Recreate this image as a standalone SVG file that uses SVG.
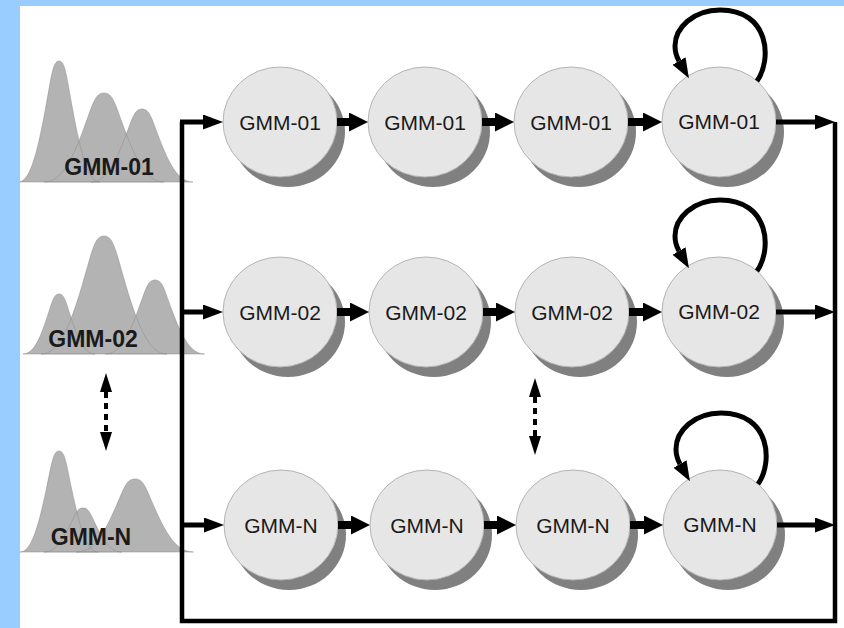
<svg xmlns="http://www.w3.org/2000/svg" xmlns:xlink="http://www.w3.org/1999/xlink" width="844" height="628" viewBox="0 0 844 628">
  <style>
    .bell { fill: #b3b3b3; stroke: none; }
    .bell-edge { fill: none; stroke: #8a8a8a; stroke-width: 0.7; stroke-opacity: 0.7; }
    .dist-label { font-family: "Liberation Sans", Arial, sans-serif; font-weight: bold; font-size: 23px; fill: #1a1a1a; text-anchor: middle; }
    .shadow { fill: #808080; }
    .state { fill: #e6e6e6; stroke: #b4b4b4; stroke-width: 1; }
    .state-label { font-family: "Liberation Sans", Arial, sans-serif; font-size: 21px; fill: #1a1a1a; text-anchor: middle; }
    .link { fill: none; stroke: #000; stroke-width: 8; marker-end: url(#head); }
    .io { fill: none; stroke: #000; stroke-width: 5; marker-end: url(#headS); }
    .frame { fill: none; stroke: #000; stroke-width: 4.5; stroke-linejoin: miter; }
    .loop { fill: none; stroke: #000; stroke-width: 5; marker-end: url(#headS); }
    .dashed { fill: none; stroke: #000; stroke-width: 4; stroke-dasharray: 6 5; marker-start: url(#headD); marker-end: url(#headD); }
  </style>
  <defs>
    <marker id="head" markerUnits="userSpaceOnUse" markerWidth="20" markerHeight="20" refX="0" refY="9.5" orient="auto">
      <path d="M0,0 L19,9.5 L0,19 Z" fill="#000"/>
    </marker>
    <marker id="headS" markerUnits="userSpaceOnUse" markerWidth="21" markerHeight="16" refX="0" refY="7.5" orient="auto">
      <path d="M0,0 L20,7.5 L0,15 Z" fill="#000"/>
    </marker>
    <marker id="headD" markerUnits="userSpaceOnUse" markerWidth="20" markerHeight="13" refX="0" refY="6" orient="auto-start-reverse">
      <path d="M0,0 L19,6 L0,12 Z" fill="#000"/>
    </marker>
    <path id="selfloop" d="M757 81 C772 60, 770 10, 720 10 C693 10, 675 28, 675 46 Q675 54, 679 61"/>
    <!-- gaussian-like components, each built from four cubic pieces -->
    <path id="g01a" d="M18.5 182 C29.3 182, 36.5 157.6, 45.5 108.6 C51.6 75.5, 52.9 61, 59 61 C65.1 61, 66.4 75.5, 72.5 108.6 C81.5 157.6, 88.7 182, 99.5 182 Z"/>
    <path id="g01b" d="M44 182 C60 182, 70.7 164, 84 128 C93 103.7, 95 93, 104 93 C113 93, 115 103.7, 124 128 C137.3 164, 148 182, 164 182 Z"/>
    <path id="g01c" d="M91 182 C104.6 182, 113.7 167.3, 125 137.7 C132.65 117.8, 134.35 109, 142 109 C149.65 109, 151.35 117.8, 159 137.7 C170.3 167.3, 179.4 182, 193 182 Z"/>
    <path id="g02a" d="M23 354 C32.6 354, 39 341.9, 47 317.6 C52.4 301.2, 53.6 294, 59 294 C64.4 294, 65.6 301.2, 71 317.6 C79 341.9, 85.4 354, 95 354 Z"/>
    <path id="g02b" d="M41 354 C57.8 354, 69 330.2, 83 282.4 C92.45 250.2, 94.55 236, 104 236 C113.45 236, 115.55 250.2, 125 282.4 C139 330.2, 150.2 354, 167 354 Z"/>
    <path id="g02c" d="M105.5 354 C118.7 354, 127.5 339.1, 138.5 309.1 C145.9 288.9, 147.6 280, 155 280 C162.4 280, 164.1 288.9, 171.5 309.1 C182.5 339.1, 191.3 354, 204.5 354 Z"/>
    <path id="gNa" d="M20 552 C30.4 552, 37.3 531.6, 46 490.7 C51.85 463.1, 53.15 451, 59 451 C64.85 451, 66.15 463.1, 72 490.7 C80.7 531.6, 87.6 552, 98 552 Z"/>
    <path id="gNb" d="M44 552 C54.4 552, 61.3 543.1, 70 525.3 C75.85 513.3, 77.15 508, 83 508 C88.85 508, 90.15 513.3, 96 525.3 C104.7 543.1, 111.6 552, 122 552 Z"/>
    <path id="gNc" d="M76.5 552 C92.1 552, 102.5 537.3, 115.5 507.7 C124.3 487.8, 126.2 479, 135 479 C143.8 479, 145.7 487.8, 154.5 507.7 C167.5 537.3, 177.9 552, 193.5 552 Z"/>
  </defs>

  <!-- page background -->
  <rect x="0" y="0" width="844" height="628" fill="#ffffff"/>

  <!-- mixture densities -->
  <g id="dist-gmm-01">
    <use xlink:href="#g01a" class="bell"/>
    <use xlink:href="#g01b" class="bell"/>
    <use xlink:href="#g01c" class="bell"/>
    <use xlink:href="#g01a" class="bell-edge"/>
    <use xlink:href="#g01b" class="bell-edge"/>
    <use xlink:href="#g01c" class="bell-edge"/>
    <text class="dist-label" x="109" y="175">GMM-01</text>
  </g>
  <g id="dist-gmm-02">
    <use xlink:href="#g02a" class="bell"/>
    <use xlink:href="#g02b" class="bell"/>
    <use xlink:href="#g02c" class="bell"/>
    <use xlink:href="#g02a" class="bell-edge"/>
    <use xlink:href="#g02b" class="bell-edge"/>
    <use xlink:href="#g02c" class="bell-edge"/>
    <text class="dist-label" x="93" y="347">GMM-02</text>
  </g>
  <g id="dist-gmm-n">
    <use xlink:href="#gNa" class="bell"/>
    <use xlink:href="#gNb" class="bell"/>
    <use xlink:href="#gNc" class="bell"/>
    <use xlink:href="#gNa" class="bell-edge"/>
    <use xlink:href="#gNb" class="bell-edge"/>
    <use xlink:href="#gNc" class="bell-edge"/>
    <text class="dist-label" x="91" y="545">GMM-N</text>
  </g>

  <!-- blue margins -->
  <rect x="0" y="0" width="844" height="6" fill="#99ccff"/>
  <rect x="0" y="0" width="20" height="628" fill="#99ccff"/>

  <!-- states, row 1 -->
  <g id="s1-1"><ellipse class="shadow" cx="288" cy="132" rx="57" ry="55"/><ellipse class="state" cx="280" cy="122" rx="57" ry="55"/><text class="state-label" x="280" y="130">GMM-01</text></g>
  <g id="s1-2"><ellipse class="shadow" cx="433" cy="132" rx="57" ry="55"/><ellipse class="state" cx="425" cy="122" rx="57" ry="55"/><text class="state-label" x="425" y="130">GMM-01</text></g>
  <g id="s1-3"><ellipse class="shadow" cx="579" cy="132" rx="57" ry="55"/><ellipse class="state" cx="571" cy="122" rx="57" ry="55"/><text class="state-label" x="571" y="130">GMM-01</text></g>
  <g id="s1-4"><ellipse class="shadow" cx="727" cy="132" rx="57" ry="55"/><ellipse class="state" cx="719" cy="122" rx="57" ry="55"/><text class="state-label" x="719" y="129">GMM-01</text></g>

  <!-- states, row 2 -->
  <g id="s2-1"><ellipse class="shadow" cx="288" cy="322" rx="57" ry="55"/><ellipse class="state" cx="280" cy="312" rx="57" ry="55"/><text class="state-label" x="280" y="320">GMM-02</text></g>
  <g id="s2-2"><ellipse class="shadow" cx="434" cy="322" rx="57" ry="55"/><ellipse class="state" cx="426" cy="312" rx="57" ry="55"/><text class="state-label" x="426" y="320">GMM-02</text></g>
  <g id="s2-3"><ellipse class="shadow" cx="580" cy="322" rx="57" ry="55"/><ellipse class="state" cx="572" cy="312" rx="57" ry="55"/><text class="state-label" x="572" y="320">GMM-02</text></g>
  <g id="s2-4"><ellipse class="shadow" cx="727" cy="322" rx="57" ry="55"/><ellipse class="state" cx="719" cy="312" rx="57" ry="55"/><text class="state-label" x="719" y="319">GMM-02</text></g>

  <!-- states, row N -->
  <g id="s3-1"><ellipse class="shadow" cx="289" cy="535" rx="57" ry="55"/><ellipse class="state" cx="281" cy="525" rx="57" ry="55"/><text class="state-label" x="281" y="533">GMM-N</text></g>
  <g id="s3-2"><ellipse class="shadow" cx="435" cy="535" rx="57" ry="55"/><ellipse class="state" cx="427" cy="525" rx="57" ry="55"/><text class="state-label" x="427" y="533">GMM-N</text></g>
  <g id="s3-3"><ellipse class="shadow" cx="581" cy="535" rx="57" ry="55"/><ellipse class="state" cx="573" cy="525" rx="57" ry="55"/><text class="state-label" x="573" y="533">GMM-N</text></g>
  <g id="s3-4"><ellipse class="shadow" cx="728" cy="535" rx="57" ry="55"/><ellipse class="state" cx="720" cy="525" rx="57" ry="55"/><text class="state-label" x="720" y="532">GMM-N</text></g>

  <!-- connectors -->
  <g id="connectors">
    <!-- feedback frame -->
    <path class="frame" d="M182 122 V621 H835 V122"/>
    <!-- entries -->
    <line class="io" x1="180" y1="122" x2="203" y2="122"/>
    <line class="io" x1="182" y1="312" x2="203" y2="312"/>
    <line class="io" x1="182" y1="525" x2="204" y2="525"/>
    <!-- exits -->
    <line class="io" x1="776" y1="122" x2="815" y2="122"/>
    <line class="io" x1="776" y1="312" x2="815" y2="312"/>
    <line class="io" x1="777" y1="525" x2="815" y2="525"/>
    <!-- transitions row 1 -->
    <line class="link" x1="337" y1="122" x2="349" y2="122"/>
    <line class="link" x1="482" y1="122" x2="495" y2="122"/>
    <line class="link" x1="628" y1="122" x2="643" y2="122"/>
    <!-- transitions row 2 -->
    <line class="link" x1="337" y1="312" x2="350" y2="312"/>
    <line class="link" x1="483" y1="312" x2="496" y2="312"/>
    <line class="link" x1="629" y1="312" x2="643" y2="312"/>
    <!-- transitions row N -->
    <line class="link" x1="338" y1="525" x2="351" y2="525"/>
    <line class="link" x1="484" y1="525" x2="497" y2="525"/>
    <line class="link" x1="630" y1="525" x2="644" y2="525"/>
    <!-- self transitions -->
    <use xlink:href="#selfloop" class="loop"/>
    <use xlink:href="#selfloop" class="loop" transform="translate(0,190)"/>
    <use xlink:href="#selfloop" class="loop" transform="translate(1,403)"/>
    <!-- ellipsis between rows -->
    <line class="dashed" x1="106" y1="392" x2="106" y2="432"/>
    <line class="dashed" x1="535" y1="397" x2="535" y2="436"/>
  </g>
</svg>
